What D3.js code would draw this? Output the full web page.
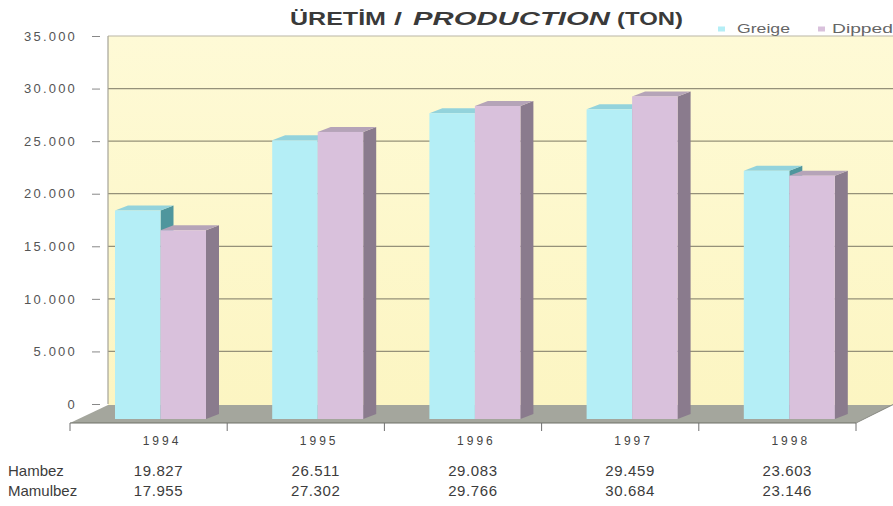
<!DOCTYPE html>
<html>
<head>
<meta charset="utf-8">
<script src="https://cdn.jsdelivr.net/npm/d3@7"></script>
<style>
  html, body { margin: 0; padding: 0; background: #ffffff; }
  svg { display: block; font-family: "Liberation Sans", Arial, sans-serif; }
</style>
</head>
<body>
<svg id="chart" width="893" height="506"></svg>
<script>
// ---- data ----
const years = ["1994", "1995", "1996", "1997", "1998"];
const series = ["Greige", "Dipped"];
const greige = [19827, 26511, 29083, 29459, 23603];   // Hambez
const dipped = [17955, 27302, 29766, 30684, 23146];   // Mamulbez
const rowLabels = ["Hambez", "Mamulbez"];
const yTicks = [0, 5000, 10000, 15000, 20000, 25000, 30000, 35000];
const titleParts = ["ÜRETİM", "/", "PRODUCTION", "(TON)"];

const fmt = d3.formatLocale({ decimal: ",", thousands: ".", grouping: [3], currency: ["", ""] }).format(",d");

const svg = d3.select("#chart");
const W = 893;

// ---- scales ----
const x = d3.scaleBand().domain(years).range([70, 856]);
const x1 = d3.scaleBand().domain(series).range([45, 136]);
const y = d3.scaleLinear().domain([0, 35000]).range([404, 36]);
const depthX = 13, depthY = 5, front = 15;
const wallLeft = 108, floorFront = y(0) + 19;

const colors = {
  Greige: { front: "#b4eef6", top: "#93d3dc", side: "#4f969d" },
  Dipped: { front: "#d9c1dc", top: "#b5a4b8", side: "#8a7b8d" }
};

// helper: place text stretched horizontally to a target width
function fitText(sel, x0, width) {
  const w = sel.node().getComputedTextLength();
  const sx = w > 0 ? width / w : 1;
  sel.attr("x", 0).attr("transform", `translate(${x0},0) scale(${sx},1)`);
}

// ---- back wall ----
const grad = svg.append("defs").append("linearGradient")
  .attr("id", "wall").attr("x1", 0).attr("y1", 0).attr("x2", 0).attr("y2", 1);
grad.append("stop").attr("offset", "0%").attr("stop-color", "#fefad6");
grad.append("stop").attr("offset", "100%").attr("stop-color", "#fcf5c2");

svg.append("rect")
  .attr("x", wallLeft).attr("y", y(35000))
  .attr("width", W - wallLeft).attr("height", y(0) - y(35000) + 1)
  .attr("fill", "url(#wall)");

// gridlines
svg.append("g").selectAll("line")
  .data(yTicks.filter(d => d > 0))
  .join("line")
  .attr("x1", wallLeft).attr("x2", W)
  .attr("y1", d => y(d)).attr("y2", d => y(d))
  .attr("stroke", d => d === 35000 ? "#b9b6a6" : "#959179")
  .attr("stroke-width", 1.2);

svg.append("line")
  .attr("x1", wallLeft).attr("x2", wallLeft)
  .attr("y1", y(35000)).attr("y2", y(0))
  .attr("stroke", "#a5a398").attr("stroke-width", 1.2);

// ---- floor ----
const fy0 = y(0) + 1, fy1 = floorFront;
svg.append("path")
  .attr("d", `M${x.range()[0]},${fy1} L${wallLeft},${fy0} L${W},${fy0} L${x.range()[1]},${fy1} Z`)
  .attr("fill", "#a4a69d");
svg.append("line")
  .attr("x1", x.range()[0]).attr("x2", x.range()[1])
  .attr("y1", fy1).attr("y2", fy1)
  .attr("stroke", "#6f7069").attr("stroke-width", 1.2);
svg.append("line")
  .attr("x1", x.range()[1]).attr("x2", W + 1)
  .attr("y1", fy1).attr("y2", fy0 - 1)
  .attr("stroke", "#8c8d86").attr("stroke-width", 1);

// category ticks below front edge
const catTicks = years.map(d => x(d)).concat([x.range()[1]]);
svg.append("g").selectAll("line")
  .data(catTicks)
  .join("line")
  .attr("x1", d => d).attr("x2", d => d)
  .attr("y1", fy1).attr("y2", fy1 + 8)
  .attr("stroke", "#707070").attr("stroke-width", 1);

// ---- y axis ----
const yAxis = d3.axisLeft(y)
  .tickValues(yTicks)
  .tickSize(8)
  .tickPadding(15)
  .tickFormat(d => fmt(d));
const ga = svg.append("g").attr("transform", "translate(100,0)").call(yAxis);
ga.select(".domain").remove();
ga.selectAll(".tick line").attr("stroke", "#888").attr("stroke-width", 1);
ga.selectAll(".tick text")
  .attr("fill", "#555")
  .style("font-size", "13px")
  .style("letter-spacing", "2.2px")
  .style("font-family", "'Liberation Sans', Arial, sans-serif");

// ---- bars (3D) ----
const rows = years.map((yr, i) => ({ year: yr, Greige: greige[i], Dipped: dipped[i] }));
const bw = x1.bandwidth();
const bars = [];
rows.forEach(r => series.forEach(s => bars.push({ year: r.year, s, v: r[s] })));

const gb = svg.append("g");
bars.forEach(b => {
  const x0 = x(b.year) + x1(b.s);
  const yt = y(b.v) + front;
  const yb = y(0) + front;
  const c = colors[b.s];
  const g = gb.append("g");
  g.append("path")
    .attr("d", `M${x0 + bw},${yt} L${x0 + bw + depthX},${yt - depthY} L${x0 + bw + depthX},${yb - depthY} L${x0 + bw},${yb} Z`)
    .attr("fill", c.side);
  g.append("path")
    .attr("d", `M${x0},${yt} L${x0 + depthX},${yt - depthY} L${x0 + bw + depthX},${yt - depthY} L${x0 + bw},${yt} Z`)
    .attr("fill", c.top);
  g.append("rect")
    .attr("x", x0).attr("y", yt)
    .attr("width", bw).attr("height", yb - yt)
    .attr("fill", c.front);
});

// ---- year labels ----
const pairCenter = d => x(d) + x1.range()[0] + (x1.range()[1] - x1.range()[0]) / 2;
svg.append("g").selectAll("text")
  .data(years)
  .join("text")
  .attr("x", d => pairCenter(d) + 1.5)
  .attr("y", 445)
  .attr("text-anchor", "middle")
  .attr("fill", "#444")
  .style("font-size", "12px")
  .style("letter-spacing", "3px")
  .text(d => d);

// ---- data table ----
const tableRows = [greige, dipped];
tableRows.forEach((vals, ri) => {
  const by = 475.5 + ri * 20;
  svg.append("text")
    .attr("x", 8).attr("y", by)
    .attr("fill", "#3c3c3c")
    .style("font-size", "15px")
    .text(rowLabels[ri]);
  svg.append("g").selectAll("text")
    .data(years)
    .join("text")
    .attr("x", (d, i) => pairCenter(d) - 2)
    .attr("y", by)
    .attr("text-anchor", "middle")
    .attr("fill", "#3c3c3c")
    .style("font-size", "15px")
    .style("letter-spacing", "0.6px")
    .text((d, i) => fmt(vals[i]));
});

// ---- title ----
const tStyle = [
  { x: 290, w: 96, italic: false },
  { x: 394, w: 8, italic: false },
  { x: 413, w: 197, italic: true },
  { x: 617, w: 66, italic: false }
];
titleParts.forEach((t, i) => {
  const el = svg.append("text")
    .attr("y", 25)
    .attr("fill", "#3a3a3a")
    .style("font-size", "18px")
    .style("font-weight", "bold")
    .style("font-style", tStyle[i].italic ? "italic" : "normal")
    .text(t);
  fitText(el, tStyle[i].x, tStyle[i].w);
});

// ---- legend ----
const legendPos = [{ sx: 718, tx: 737, tw: 53 }, { sx: 818, tx: 832, tw: 61 }];
series.forEach((s, i) => {
  svg.append("rect")
    .attr("x", legendPos[i].sx).attr("y", 26.5)
    .attr("width", 7).attr("height", 5)
    .attr("fill", colors[s].front);
  const el = svg.append("text")
    .attr("y", 33)
    .attr("fill", "#666")
    .style("font-size", "12.5px")
    .text(s);
  fitText(el, legendPos[i].tx, legendPos[i].tw);
});
</script>
</body>
</html>
